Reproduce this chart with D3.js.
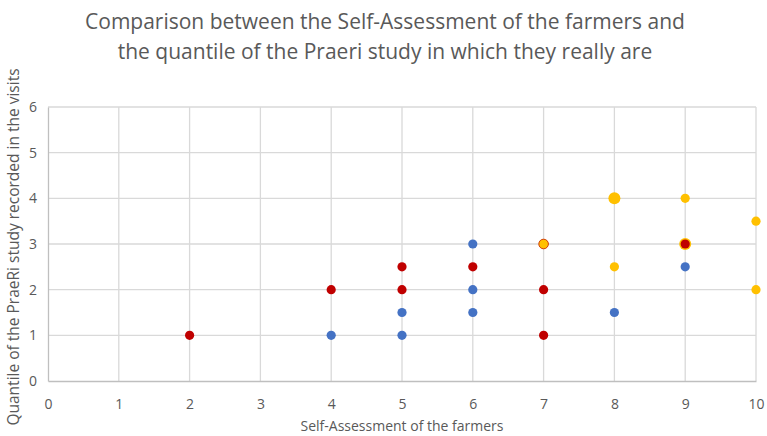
<!DOCTYPE html>
<html>
<head>
<meta charset="utf-8">
<script src="https://cdn.jsdelivr.net/npm/d3@7"></script>
<style>
  body { margin: 0; background: #fff; }
  text { font-family: "Open Sans", "Liberation Sans", sans-serif; fill: #595959; }
</style>
</head>
<body>
<script>
// data
var blueX = [4, 5, 5, 6, 6, 6, 8, 9]
var blueY = [1, 1, 1.5, 1.5, 2, 3, 1.5, 2.5]
var bigYellowX = [8, 9]
var bigYellowY = [4, 3]
var redX = [2, 4, 5, 5, 6, 7, 7, 7, 9]
var redY = [1, 2, 2, 2.5, 2.5, 1, 2, 3, 3]
var yellowX = [9, 10, 8, 10, 7]
var yellowY = [4, 3.5, 2.5, 2, 3]
var xTicks = [0, 1, 2, 3, 4, 5, 6, 7, 8, 9, 10]
var yTicks = [0, 1, 2, 3, 4, 5, 6]
var titleLines = ["Comparison between the Self-Assessment of the farmers and",
                  "the quantile of the Praeri study in which they really are"]

var W = 767, H = 436
var margin = {top: 107, right: 10, bottom: 55, left: 48}

var x = d3.scaleLinear().domain([0, 10]).range([0, 708])
var y = d3.scaleLinear().domain([0, 6]).range([274, 0])

var root = d3.select("body").append("svg")
    .attr("width", W).attr("height", H)

var svg = root.append("g")
    .attr("transform", "translate(" + margin.left + "," + margin.top + ")")

// grid
svg.selectAll(".vgrid").data(xTicks.slice(1)).enter().append("line")
    .attr("x1", d => x(d)).attr("x2", d => x(d))
    .attr("y1", y(6)).attr("y2", y(0))
    .style("stroke", "#d9d9d9").style("stroke-width", 1.3)
svg.selectAll(".hgrid").data(yTicks.slice(1)).enter().append("line")
    .attr("x1", 0).attr("x2", x(10))
    .attr("y1", d => y(d)).attr("y2", d => y(d))
    .style("stroke", "#d9d9d9").style("stroke-width", 1.3)

// axes (Excel style: plain lines, labels no ticks)
var xaxis = d3.axisBottom(x).tickValues(xTicks).tickSize(0).tickPadding(18).tickFormat(d3.format("d"))
var yaxis = d3.axisLeft(y).tickValues(yTicks).tickSize(0).tickPadding(11).tickFormat(d3.format("d"))

var gx = svg.append("g").attr("transform", "translate(0," + y(0) + ")").call(xaxis)
var gy = svg.append("g").call(yaxis)
gx.select(".domain").style("stroke", "#bfbfbf").style("stroke-width", 1.3)
gy.select(".domain").style("stroke", "#bfbfbf").style("stroke-width", 1.3)
root.selectAll(".tick text").style("font-size", "14px").style("fill", "#595959")
    .style("font-family", "'Open Sans', sans-serif")

function dots(xs, ys, color, r) {
  svg.append("g").selectAll("circle").data(xs).enter().append("circle")
      .attr("cx", (d, i) => x(d))
      .attr("cy", (d, i) => y(ys[i]))
      .attr("r", r)
      .style("fill", color)
}

dots(blueX, blueY, "#4472c4", 4.6)
dots(bigYellowX, bigYellowY, "#ffc000", 6)
dots(redX, redY, "#c00000", 4.6)
dots(yellowX, yellowY, "#ffc000", 4.6)
// the yellow one at (7,3) sits slightly inside the red one
svg.append("circle").attr("cx", x(7)).attr("cy", y(3)).attr("r", 4.8)
    .style("fill", "#ffc000").style("stroke", "#d04010").style("stroke-width", 1)

// title
root.append("g").selectAll("text").data(titleLines).enter().append("text")
    .attr("x", 385)
    .attr("y", (d, i) => 29 + i * 30)
    .attr("text-anchor", "middle")
    .style("font-size", "21px")
    .text(d => d)

root.append("text")
    .attr("x", margin.left + x(5))
    .attr("y", 431)
    .attr("text-anchor", "middle")
    .style("font-size", "14px")
    .text("Self-Assessment of the farmers")

root.append("text")
    .attr("transform", "translate(19,247) rotate(-90)")
    .attr("text-anchor", "middle")
    .style("font-size", "15.5px")
    .text("Quantile of the PraeRi study recorded in the visits")
</script>
</body>
</html>
